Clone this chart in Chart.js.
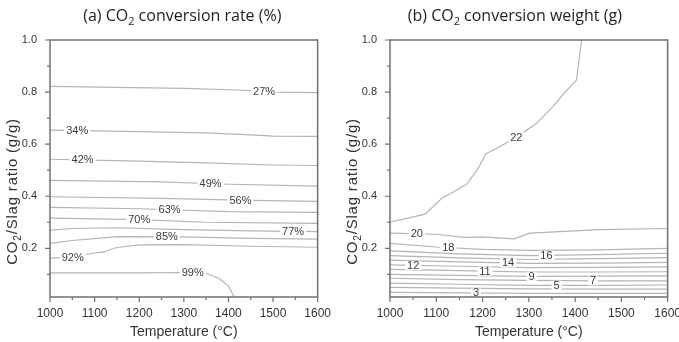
<!DOCTYPE html>
<html>
<head>
<meta charset="utf-8">
<script src="https://cdn.jsdelivr.net/npm/chart.js@4.4.1/dist/chart.umd.min.js"></script>
<style>
  html, body { margin: 0; padding: 0; background: #fff; }
  #wrap { width: 679px; height: 342px; overflow: hidden; position: relative; }
  .box { position: absolute; top: 0; height: 342px; }
  #boxA { left: 0; width: 340px; }
  #boxB { left: 340px; width: 350px; }
</style>
</head>
<body>
<div id="wrap">
  <div class="box" id="boxA"><canvas id="rateChart" width="340" height="342"></canvas></div>
  <div class="box" id="boxB"><canvas id="weightChart" width="350" height="342"></canvas></div>
</div>
<script>
// axes
const tempTicks = [1000, 1100, 1200, 1300, 1400, 1500, 1600];
const ratioTicks = [0.2, 0.4, 0.6, 0.8, 1.0];
const ratioMin = 0.013;

// (a) conversion rate contours, [temperature, ratio]
const rateLevels = ['27%', '34%', '42%', '49%', '56%', '63%', '70%', '77%', '85%', '92%', '99%'];
const rateLabelTemp = [1480, 1061, 1073, 1360, 1427, 1268, 1200, 1545, 1262, 1051, 1320];
const rateLines = [
  [[1000, 0.822], [1150, 0.818], [1300, 0.814], [1420, 0.808], [1500, 0.800], [1600, 0.798]],
  [[1000, 0.654], [1200, 0.648], [1350, 0.643], [1450, 0.636], [1500, 0.631], [1600, 0.630]],
  [[1000, 0.542], [1200, 0.535], [1350, 0.528], [1500, 0.520], [1600, 0.518]],
  [[1000, 0.461], [1250, 0.455], [1400, 0.446], [1600, 0.439]],
  [[1000, 0.398], [1250, 0.392], [1450, 0.384], [1600, 0.380]],
  [[1000, 0.357], [1200, 0.352], [1400, 0.341], [1600, 0.338]],
  [[1000, 0.316], [1200, 0.310], [1350, 0.300], [1600, 0.296]],
  [[1000, 0.270], [1050, 0.276], [1150, 0.279], [1300, 0.272], [1450, 0.267], [1600, 0.264]],
  [[1000, 0.219], [1050, 0.230], [1100, 0.237], [1150, 0.245], [1300, 0.244], [1450, 0.238], [1600, 0.235]],
  [[1000, 0.162], [1050, 0.165], [1100, 0.182], [1120, 0.186], [1150, 0.203], [1200, 0.213], [1300, 0.214], [1450, 0.208], [1600, 0.204]],
  [[1000, 0.106], [1200, 0.106], [1300, 0.107], [1350, 0.104], [1380, 0.083], [1400, 0.055], [1413, 0.013]]
];

// (b) conversion weight contours, [temperature, ratio]
const weightLevels = ['22', '20', '18', '16', null, '14', '12', '11', '9', '7', '5', null, '3'];
const weightLabelTemp = [1273, 1058, 1126, 1338, null, 1255, 1050, 1205, 1306, 1439, 1360, null, 1186];
const weightLines = [
  [[1000, 0.300], [1036, 0.315], [1076, 0.331], [1112, 0.392], [1122, 0.402], [1165, 0.445], [1190, 0.505], [1207, 0.562], [1237, 0.590], [1277, 0.631], [1317, 0.680], [1352, 0.744], [1381, 0.805], [1403, 0.846], [1414, 1.0]],
  [[1000, 0.258], [1100, 0.254], [1160, 0.242], [1200, 0.244], [1268, 0.236], [1302, 0.258], [1410, 0.268], [1450, 0.272], [1600, 0.276]],
  [[1000, 0.219], [1100, 0.205], [1200, 0.196], [1300, 0.192], [1450, 0.194], [1600, 0.200]],
  [[1000, 0.190], [1150, 0.179], [1300, 0.172], [1450, 0.176], [1600, 0.181]],
  [[1000, 0.172], [1150, 0.163], [1300, 0.157], [1450, 0.160], [1600, 0.164]],
  [[1000, 0.155], [1150, 0.148], [1300, 0.142], [1450, 0.143], [1600, 0.146]],
  [[1000, 0.136], [1150, 0.131], [1300, 0.126], [1450, 0.127], [1600, 0.129]],
  [[1000, 0.119], [1150, 0.114], [1300, 0.109], [1450, 0.109], [1600, 0.110]],
  [[1000, 0.100], [1150, 0.096], [1300, 0.092], [1450, 0.093], [1600, 0.094]],
  [[1000, 0.085], [1150, 0.080], [1300, 0.077], [1450, 0.075], [1600, 0.075]],
  [[1000, 0.066], [1150, 0.062], [1300, 0.058], [1450, 0.058], [1600, 0.059]],
  [[1000, 0.050], [1150, 0.047], [1300, 0.044], [1450, 0.043], [1600, 0.043]],
  [[1000, 0.031], [1150, 0.029], [1300, 0.027], [1450, 0.027], [1600, 0.027]]
];

const sansFont = '"Liberation Sans", Arial, sans-serif';

// ratio on a contour at temperature t (linear between vertices)
function ratioAt(points, t) {
  for (let i = 1; i < points.length; i++) {
    const a = points[i - 1], b = points[i];
    if (t >= a.x && t <= b.x) {
      return a.y + (b.y - a.y) * (t - a.x) / (b.x - a.x);
    }
  }
  return points[points.length - 1].y;
}

// text with a subscript piece, centred on x
function drawParts(ctx, parts, x, y, size, family) {
  const widths = parts.map(p => {
    ctx.font = (p[1] ? size * 0.68 : size) + 'px ' + family;
    return ctx.measureText(p[0]).width;
  });
  let cx = x - widths.reduce((a, b) => a + b, 0) / 2;
  parts.forEach((p, i) => {
    ctx.font = (p[1] ? size * 0.68 : size) + 'px ' + family;
    ctx.fillText(p[0], cx, p[1] ? y + size * 0.25 : y);
    cx += widths[i];
  });
}

const contourDecor = {
  id: 'contourDecor',
  afterDatasetsDraw(chart) {
    const ctx = chart.ctx;
    const xs = chart.scales.x, ys = chart.scales.y;
    ctx.save();
    ctx.font = '11px ' + sansFont;
    ctx.textAlign = 'center';
    ctx.textBaseline = 'middle';
    chart.data.datasets.forEach(ds => {
      if (!ds.label || ds.labelTemp == null) return;
      const px = xs.getPixelForValue(ds.labelTemp);
      const py = ys.getPixelForValue(ratioAt(ds.data, ds.labelTemp));
      const w = ctx.measureText(ds.label).width;
      ctx.fillStyle = '#fff';
      ctx.fillRect(px - w / 2 - 2, py - 4.5, w + 4, 9);
      ctx.fillStyle = '#3a3a3a';
      ctx.fillText(ds.label, px, py + 0.5);
    });
    ctx.restore();
  },
  afterDraw(chart, args, opts) {
    const ctx = chart.ctx;
    const { left, right, top, bottom } = chart.chartArea;
    const xs = chart.scales.x, ys = chart.scales.y;
    ctx.save();

    // frame
    ctx.strokeStyle = '#707070';
    ctx.lineWidth = 1.5;
    ctx.strokeRect(left, top, right - left, bottom - top);

    // major and minor ticks, outside
    ctx.lineWidth = 1.2;
    ctx.beginPath();
    tempTicks.forEach((t, i) => {
      const p = xs.getPixelForValue(t);
      ctx.moveTo(p, bottom); ctx.lineTo(p, bottom + 5);
      if (i < tempTicks.length - 1) {
        const m = xs.getPixelForValue(t + (tempTicks[i + 1] - t) / 2);
        ctx.moveTo(m, bottom); ctx.lineTo(m, bottom + 3);
      }
    });
    ratioTicks.forEach((v, i) => {
      const p = ys.getPixelForValue(v);
      ctx.moveTo(left, p); ctx.lineTo(left - 5, p);
      const prev = i === 0 ? 0 : ratioTicks[i - 1];
      const m = ys.getPixelForValue(prev + (v - prev) / 2);
      ctx.moveTo(left, m); ctx.lineTo(left - 3, m);
    });
    ctx.stroke();

    // titles
    ctx.fillStyle = '#1e1e1e';
    ctx.textAlign = 'left';
    ctx.textBaseline = 'alphabetic';
    const cx = (left + right) / 2;
    drawParts(ctx, opts.title, cx + opts.titleShift, 21, 16, '"Open Sans", sans-serif');

    ctx.fillStyle = '#333';
    drawParts(ctx, [['Temperature (°C)']], cx, 336, 14, sansFont);

    ctx.translate(17, (top + bottom) / 2 + 23);
    ctx.rotate(-Math.PI / 2);
    ctx.letterSpacing = '0.8px';
    drawParts(ctx, [['CO'], ['2', true], ['/Slag ratio (g/g)']], 0, 0, 15, sansFont);
    ctx.restore();
  }
};

function buildChart(canvasId, lines, levels, labelTemps, title, titleShift, padRight) {
  const datasets = lines.map((line, i) => ({
    label: levels[i],
    labelTemp: labelTemps[i],
    data: line.map(p => ({ x: p[0], y: p[1] })),
    borderColor: '#b4b4b4',
    borderWidth: 1.2,
    pointRadius: 0,
    tension: 0,
    fill: false
  }));

  return new Chart(document.getElementById(canvasId), {
    type: 'line',
    data: { datasets },
    options: {
      responsive: false,
      animation: false,
      layout: { padding: { left: 0, right: padRight, top: 40, bottom: 0 } },
      plugins: {
        legend: { display: false },
        tooltip: { enabled: false },
        contourDecor: { title, titleShift }
      },
      scales: {
        x: {
          type: 'linear',
          min: 1000,
          max: 1600,
          grid: { display: false, drawTicks: false },
          border: { display: false },
          afterBuildTicks: s => { s.ticks = tempTicks.map(v => ({ value: v })); },
          afterFit: s => { s.height = 45; },
          ticks: {
            padding: 9,
            maxRotation: 0,
            color: '#333',
            font: { family: sansFont, size: 12 },
            callback: v => String(v)
          }
        },
        y: {
          type: 'linear',
          min: ratioMin,
          max: 1.0,
          grid: { display: false, drawTicks: false },
          border: { display: false },
          afterBuildTicks: s => { s.ticks = ratioTicks.map(v => ({ value: v })); },
          afterFit: s => { s.width = 50; },
          ticks: {
            padding: 13,
            color: '#333',
            font: { family: sansFont, size: 11 },
            callback: v => v.toFixed(1)
          }
        }
      }
    },
    plugins: [contourDecor]
  });
}

buildChart('rateChart', rateLines, rateLevels, rateLabelTemp,
  [['(a) CO'], ['2', true], [' conversion rate (%)']], -1.5, 15);
buildChart('weightChart', weightLines, weightLevels, weightLabelTemp,
  [['(b) CO'], ['2', true], [' conversion weight (g)']], -14, 22);
</script>
</body>
</html>
